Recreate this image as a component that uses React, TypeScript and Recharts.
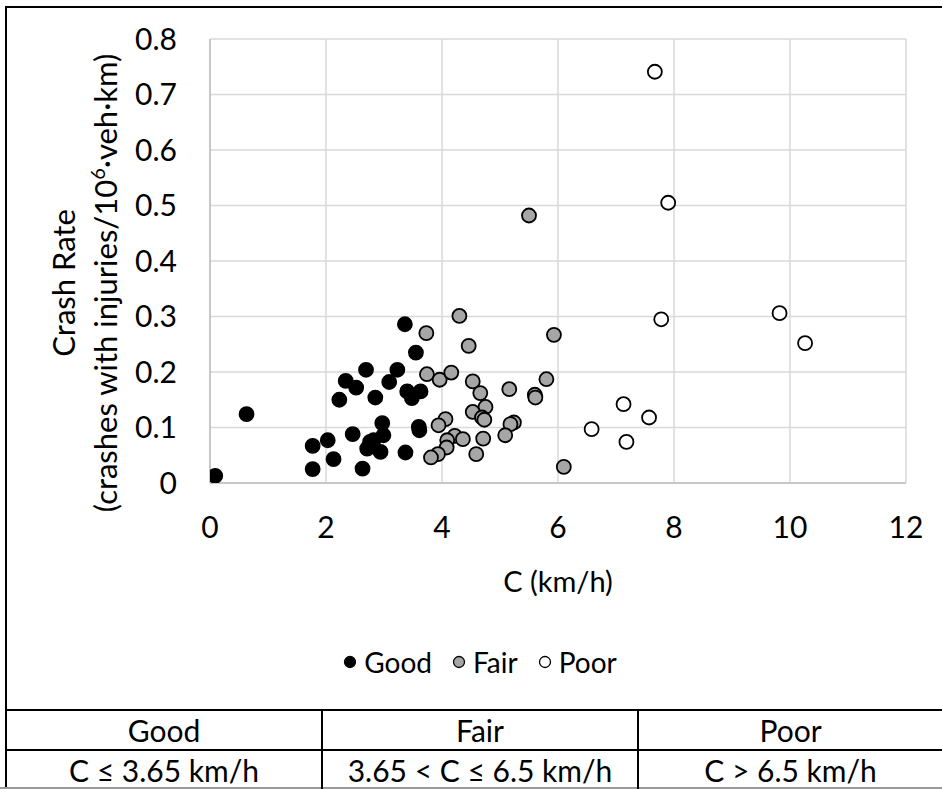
import React from 'react';
import { ScatterChart, Scatter, XAxis, YAxis, CartesianGrid, Legend } from 'recharts';

const seriesNames = ['Good', 'Fair', 'Poor'];

const goodC = [0.09, 0.63, 1.77, 1.77, 2.03, 2.13, 2.23, 2.34, 2.52, 2.46, 2.69, 2.63, 2.85, 2.76, 2.71, 2.97, 2.99, 2.94, 2.82, 3.09, 3.23, 3.36, 3.55, 3.37, 3.40, 3.48, 3.63, 3.60, 3.61];
const goodRate = [0.013, 0.124, 0.025, 0.067, 0.077, 0.043, 0.150, 0.184, 0.172, 0.088, 0.204, 0.026, 0.154, 0.074, 0.062, 0.108, 0.086, 0.056, 0.077, 0.182, 0.204, 0.286, 0.235, 0.055, 0.165, 0.153, 0.165, 0.101, 0.095];

const fairC = [5.50, 4.30, 3.73, 5.93, 4.46, 3.74, 3.96, 4.16, 4.53, 5.80, 4.66, 5.16, 5.60, 5.61, 4.75, 4.53, 4.69, 4.73, 5.24, 5.18, 4.06, 3.94, 4.22, 4.36, 4.09, 4.08, 3.93, 3.81, 4.59, 4.71, 5.09, 6.10];
const fairRate = [0.482, 0.301, 0.270, 0.267, 0.247, 0.196, 0.186, 0.199, 0.183, 0.187, 0.162, 0.169, 0.159, 0.154, 0.137, 0.128, 0.118, 0.114, 0.109, 0.106, 0.115, 0.104, 0.085, 0.079, 0.077, 0.064, 0.052, 0.046, 0.052, 0.080, 0.086, 0.029];

const poorC = [7.67, 7.90, 7.78, 9.82, 10.26, 7.13, 7.57, 6.58, 7.18];
const poorRate = [0.741, 0.505, 0.295, 0.306, 0.252, 0.142, 0.118, 0.097, 0.074];

const xTicks = [0, 2, 4, 6, 8, 10, 12];
const yTicks = [0, 0.1, 0.2, 0.3, 0.4, 0.5, 0.6, 0.7, 0.8];

const tableHeaders = ['Good', 'Fair', 'Poor'];
const tableRanges = ['C ≤ 3.65 km/h', '3.65 < C ≤ 6.5 km/h', 'C > 6.5 km/h'];

const FONT = 'Lato, Carlito, Calibri, sans-serif';
const FILLS: Record<string, string> = { Good: '#000000', Fair: '#a6a6a6', Poor: '#ffffff' };

const toPoints = (xs: number[], ys: number[]) => xs.map((x, i) => ({ c: x, rate: ys[i] }));
const goodData = toPoints(goodC, goodRate);
const fairData = toPoints(fairC, fairRate);
const poorData = toPoints(poorC, poorRate);

const makeShape = (fill: string) => (props: any) => (
  <circle cx={props.cx} cy={props.cy} r={7} fill={fill} stroke="#000" strokeWidth={1.8} />
);

const renderLegend = () => {
  return (
    <div style={{ display: 'flex', justifyContent: 'center', alignItems: 'center', fontFamily: FONT, fontSize: 28, color: '#000' }}>
      {seriesNames.map((name, i) => (
        <div key={name} style={{ display: 'flex', alignItems: 'center', marginRight: i < seriesNames.length - 1 ? 20 : 0 }}>
          <svg width={14} height={14} style={{ marginRight: 7 }}>
            <circle cx={7} cy={7} r={5.5} fill={FILLS[name]} stroke="#000" strokeWidth={1.3} />
          </svg>
          <span>{name}</span>
        </div>
      ))}
    </div>
  );
};

const YTitle = (props: any) => {
  const vb = props.viewBox || { x: 0, y: 39, width: 210, height: 444 };
  const cy = vb.y + vb.height / 2 + 22;
  const x1 = vb.x + 75;
  const x2 = vb.x + 117;
  return (
    <g fontFamily={FONT} fontSize={31} fill="#000">
      <text x={x1} y={cy} transform={`rotate(-90, ${x1}, ${cy})`} textAnchor="middle">Crash Rate</text>
      <text x={x2} y={cy} transform={`rotate(-90, ${x2}, ${cy})`} textAnchor="middle">
        (crashes with injuries/10<tspan dy={-12} fontSize={20}>6</tspan><tspan dy={12}>·veh·km)</tspan>
      </text>
    </g>
  );
};

const XTitle = (props: any) => {
  const vb = props.viewBox || { x: 210, y: 483, width: 696, height: 217 };
  return (
    <text x={vb.x + vb.width / 2} y={vb.y + 109} textAnchor="middle" fontFamily={FONT} fontSize={29} fill="#000">C (km/h)</text>
  );
};

const lineStyle = (s: React.CSSProperties): React.CSSProperties => ({ position: 'absolute', background: '#000', ...s });

export default function App() {
  return (
    <div style={{ position: 'absolute', left: 0, top: 0, width: 942, height: 789, overflow: 'hidden', background: '#fff' }}>
      <div style={{ position: 'absolute', left: 5, top: 6, width: 1100, height: 900, borderLeft: '2.5px solid #000', borderTop: '2.5px solid #000', boxSizing: 'border-box' }} />
      <div style={{ position: 'absolute', left: 0, top: 0 }}>
        <ScatterChart width={942} height={700} margin={{ top: 39, right: 36, bottom: 0, left: 0 }}>
          <CartesianGrid stroke="#d9d9d9" strokeWidth={1.5} horizontalValues={yTicks} verticalValues={xTicks} />
          <XAxis
            type="number"
            dataKey="c"
            domain={[0, 12]}
            ticks={xTicks}
            height={217}
            tickLine={false}
            tickMargin={28}
            axisLine={{ stroke: '#c8c8c8', strokeWidth: 2 }}
            tick={{ fill: '#000', fontSize: 30, fontFamily: FONT }}
            label={{ content: XTitle }}
            allowDataOverflow
          />
          <YAxis
            type="number"
            dataKey="rate"
            domain={[0, 0.8]}
            ticks={yTicks}
            width={210}
            tickLine={false}
            tickMargin={27}
            axisLine={{ stroke: '#c8c8c8', strokeWidth: 2 }}
            tick={{ fill: '#000', fontSize: 30, fontFamily: FONT }}
            tickFormatter={(v: number) => String(v)}
            label={{ content: YTitle }}
            allowDataOverflow
          />
          <Legend
            verticalAlign="middle"
            align="center"
            layout="horizontal"
            wrapperStyle={{ top: 645, left: 0, width: 960 }}
            content={renderLegend}
          />
          <Scatter name={seriesNames[0]} data={goodData} fill={FILLS.Good} shape={makeShape(FILLS.Good)} isAnimationActive={false} />
          <Scatter name={seriesNames[1]} data={fairData} fill={FILLS.Fair} shape={makeShape(FILLS.Fair)} isAnimationActive={false} />
          <Scatter name={seriesNames[2]} data={poorData} fill={FILLS.Poor} shape={makeShape(FILLS.Poor)} isAnimationActive={false} />
        </ScatterChart>
      </div>
      {/* table */}
      <div style={lineStyle({ left: 5, top: 708.5, width: 1000, height: 2.5 })} />
      <div style={lineStyle({ left: 5, top: 748.5, width: 1000, height: 2.5 })} />
      <div style={lineStyle({ left: 0, top: 787, width: 1000, height: 2, background: '#9a9a9a' })} />
      <div style={lineStyle({ left: 321, top: 709, width: 2, height: 80 })} />
      <div style={lineStyle({ left: 637, top: 709, width: 2, height: 80 })} />
      {tableHeaders.map((h, i) => {
        const lefts = [7, 323, 639];
        const widths = [314, 314, 303];
        return (
          <React.Fragment key={h}>
            <div style={{ position: 'absolute', left: lefts[i], top: 711, width: widths[i], height: 38, display: 'flex', alignItems: 'center', justifyContent: 'center', fontFamily: FONT, fontSize: 30, color: '#000' }}>{h}</div>
            <div style={{ position: 'absolute', left: lefts[i], top: 751, width: widths[i], height: 38, display: 'flex', alignItems: 'center', justifyContent: 'center', fontFamily: FONT, fontSize: 30, color: '#000' }}>{tableRanges[i]}</div>
          </React.Fragment>
        );
      })}
    </div>
  );
}
